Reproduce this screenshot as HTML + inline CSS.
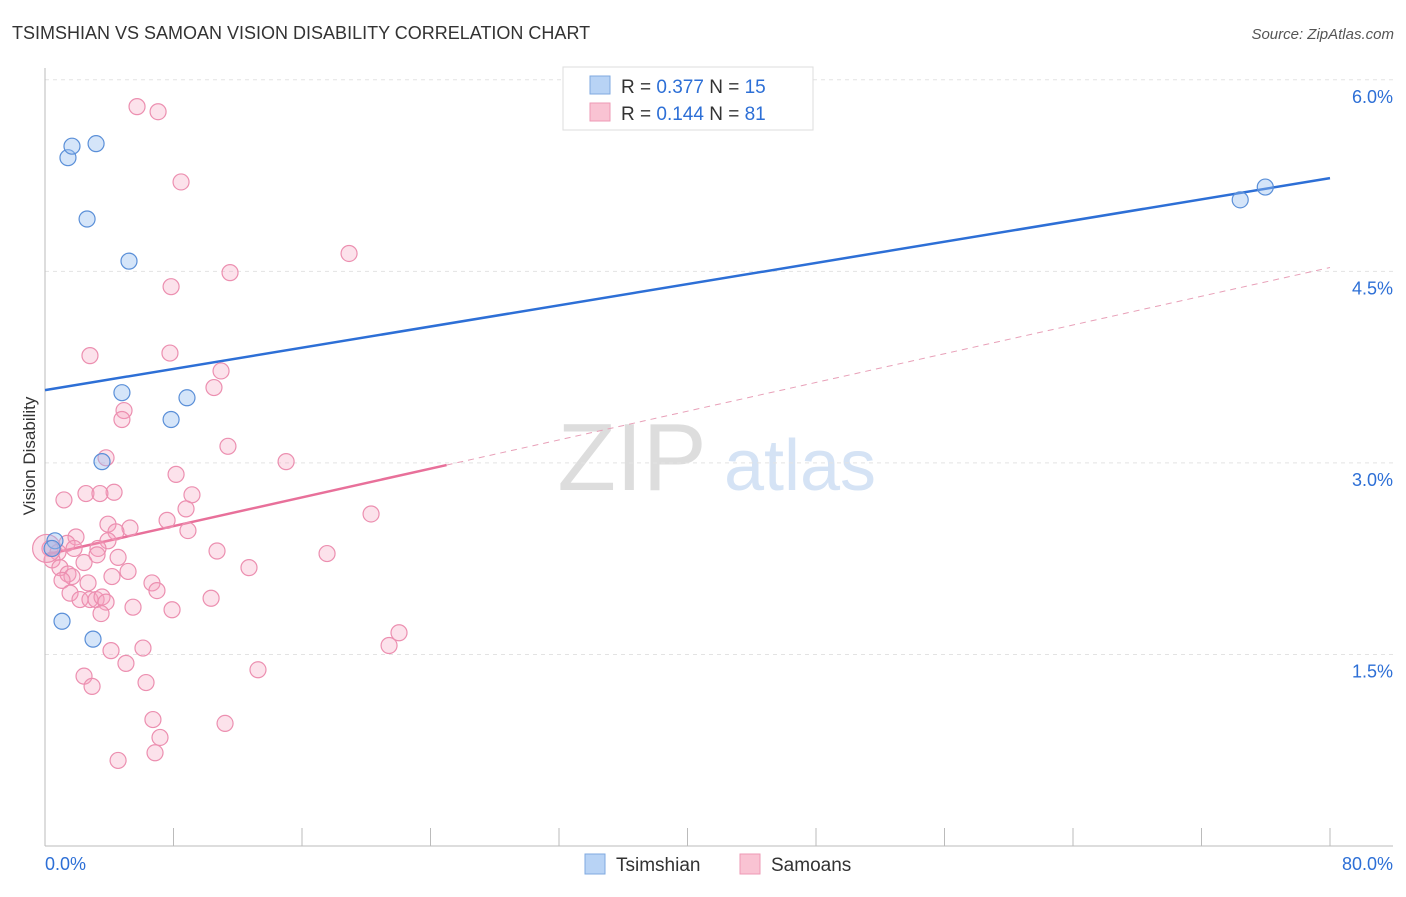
<!DOCTYPE html>
<html><head><meta charset="utf-8"><style>
body{margin:0;background:#fff;font-family:"Liberation Sans",sans-serif}
svg text{font-family:"Liberation Sans",sans-serif}
</style></head><body>
<svg id="chart" width="1406" height="892" xmlns="http://www.w3.org/2000/svg">
<text x="12" y="39" font-size="18" fill="#333">TSIMSHIAN VS SAMOAN VISION DISABILITY CORRELATION CHART</text>
<text x="1394" y="39" font-size="15" fill="#555" font-style="italic" text-anchor="end">Source: ZipAtlas.com</text>
<g>
<text x="632" y="490" font-size="96" fill="#ddd" font-family="Liberation Serif,serif" text-anchor="middle">ZIP</text>
<text x="800" y="490" font-size="72" fill="#d5e3f5" text-anchor="middle">atlas</text>
</g>
<g id="grid"></g>
<g id="axes"></g>
<g id="lines"></g>
<g id="pts"></g>
<text x="35" y="456" font-size="17" fill="#333" text-anchor="middle" transform="rotate(-90 35 456)">Vision Disability</text>
<g>
<rect x="563" y="67" width="250" height="63" fill="#fff" stroke="#ddd"/>
<rect x="590" y="76" width="20" height="18" fill="#b8d3f5" stroke="#7fa9e0"/>
<text x="621" y="93" font-size="19" fill="#333">R = <tspan fill="#2d6fd6">0.377</tspan>   N = <tspan fill="#2d6fd6">15</tspan></text>
<rect x="590" y="103" width="20" height="18" fill="#f9c3d3" stroke="#ee9ab5"/>
<text x="621" y="120" font-size="19" fill="#333">R = <tspan fill="#2d6fd6">0.144</tspan>   N = <tspan fill="#2d6fd6">81</tspan></text>
</g>
<g>
<rect x="585" y="854" width="20" height="20" fill="#b8d3f5" stroke="#7fa9e0"/>
<text x="616" y="871" font-size="19" fill="#333">Tsimshian</text>
<rect x="740" y="854" width="20" height="20" fill="#f9c3d3" stroke="#ee9ab5"/>
<text x="771" y="871" font-size="19" fill="#333">Samoans</text>
</g>
</svg>
<script>
const yTicks=[1.5,3.0,4.5,6.0];
const xTickLabels=["0.0%","80.0%"];
const blueX=[0.62,1.06,1.43,1.68,2.62,2.99,3.18,3.55,4.79,5.23,7.85,8.84,74.41,75.97,0.44];
const blueY=[2.39,1.76,5.39,5.48,4.91,1.62,5.50,3.01,3.55,4.58,3.34,3.51,5.06,5.16,2.33];
const pinkX=[5.73,7.04,8.47,18.93,11.52,7.85,2.80,7.78,10.96,10.52,4.92,4.79,11.39,3.80,15.01,8.16,9.15,4.30,2.55,3.42,1.18,8.78,20.30,7.60,3.92,5.29,8.90,4.42,1.93,3.92,1.37,3.30,0.31,1.81,0.81,10.71,17.56,3.24,4.55,0.44,2.43,12.70,0.93,5.17,1.43,4.17,1.68,1.06,2.68,6.66,6.97,1.56,2.18,2.80,3.18,3.55,3.80,10.34,5.48,7.91,3.49,22.04,21.42,6.10,4.11,5.04,13.26,2.43,6.29,2.93,6.72,11.21,7.16,6.85,4.55,0.1];
const pinkY=[5.79,5.75,5.20,4.64,4.49,4.38,3.84,3.86,3.72,3.59,3.41,3.34,3.13,3.04,3.01,2.91,2.75,2.77,2.76,2.76,2.71,2.64,2.60,2.55,2.52,2.49,2.47,2.46,2.42,2.39,2.37,2.33,2.33,2.33,2.30,2.31,2.29,2.28,2.26,2.24,2.22,2.18,2.18,2.15,2.13,2.11,2.11,2.08,2.06,2.06,2.00,1.98,1.93,1.93,1.93,1.95,1.91,1.94,1.87,1.85,1.82,1.67,1.57,1.55,1.53,1.43,1.38,1.33,1.28,1.25,0.99,0.96,0.85,0.73,0.67,2.33];
const blueTrend=[3.57,5.23];
const pinkTrend=[2.28,4.53];
const NS="http://www.w3.org/2000/svg";
const X=v=>45+v*(1285/80), Y=v=>846-v*127.7;
function mk(t,a,p){const e=document.createElementNS(NS,t);for(const k in a)e.setAttribute(k,a[k]);document.getElementById(p).appendChild(e);return e;}
yTicks.forEach(t=>{
 const l=mk('line',{x1:45,x2:1393,y1:Y(t),y2:Y(t),stroke:'#e3e3e3','stroke-dasharray':'4,4'},'grid');
 
 
 const tx=mk('text',{x:1393,y:Y(t)+23,'font-size':18,fill:'#2d6fd6','text-anchor':'end'},'grid');
 tx.textContent=t.toFixed(1)+'%';
 
 
});
mk('line',{x1:45,x2:45,y1:68,y2:846,stroke:'#bbb'},'axes');
mk('line',{x1:45,x2:1393,y1:846,y2:846,stroke:'#bbb'},'axes');
for(let i=0;i<=10;i++){const t=mk('line',{x1:X(i*8),x2:X(i*8),y1:828,y2:846,stroke:'#bbb'},'axes');}
[[0,'start',45],[80,'end',1393]].forEach((d,i)=>{const t=mk('text',{x:d[2],y:870,'font-size':18,fill:'#2d6fd6','text-anchor':d[1]},'axes');t.textContent=xTickLabels[i];});
const bl=mk('line',{x1:X(0),y1:Y(blueTrend[0]),x2:X(80),y2:Y(blueTrend[1]),stroke:'#2d6fd6','stroke-width':2.5},'lines');


const pm=v=>pinkTrend[0]+(pinkTrend[1]-pinkTrend[0])*v/80;
const ps=mk('line',{x1:X(0),y1:Y(pm(0)),x2:X(25),y2:Y(pm(25)),stroke:'#e8709a','stroke-width':2.5},'lines');


const pd=mk('line',{x1:X(25),y1:Y(pm(25)),x2:X(80),y2:Y(pm(80)),stroke:'#e8a0b8','stroke-width':1,'stroke-dasharray':'6,5'},'lines');


pinkX.forEach((x,i)=>{const c=mk('circle',{cx:X(x),cy:Y(pinkY[i]),r:i==pinkX.length-1?14:8,fill:'rgba(245,160,190,0.3)',stroke:'#ec8fb0','stroke-width':1.2},'pts');
 
 });
blueX.forEach((x,i)=>{const c=mk('circle',{cx:X(x),cy:Y(blueY[i]),r:8,fill:'rgba(150,190,240,0.4)',stroke:'#5a8fd8','stroke-width':1.2},'pts');
 
 });
</script>
</body></html>
